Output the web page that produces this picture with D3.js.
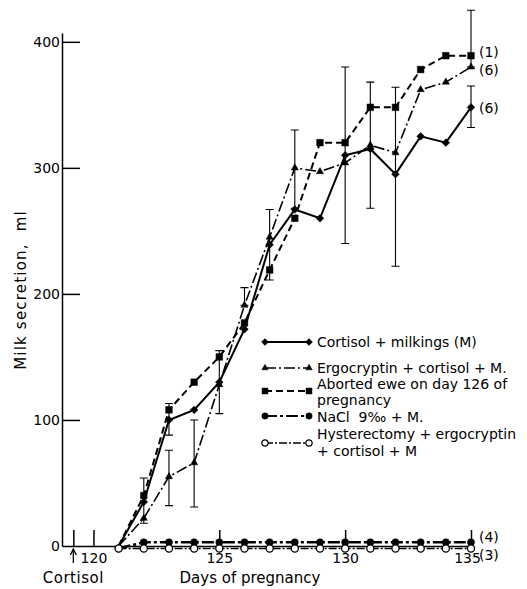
<!DOCTYPE html>
<html>
<head>
<meta charset="utf-8">
<script src="https://cdn.jsdelivr.net/npm/d3@7"></script>
<style>
  body { margin: 0; background: #fff; }
  svg text { font-family: 'DejaVu Sans', sans-serif; fill: #000; }
</style>
</head>
<body>
<svg id="chart" width="527" height="589"></svg>
<script>
// days of pregnancy, one reading per day
const days = [121, 122, 123, 124, 125, 126, 127, 128, 129, 130, 131, 132, 133, 134, 135]

// milk secretion, ml
const cortisolM   = [0, 35, 100, 108, 130, 172, 239, 267, 260, 310, 315, 295, 325, 320, 348]
const ergoCortM   = [0, 22, 55, 66, 128, 191, 245, 300, 297, 304, 318, 312, 362, 368, 380]
const abortedEwe  = [0, 40, 108, 130, 150, 177, 219, 260, 320, 320, 348, 348, 378, 389, 389]
const naclM       = [-2, 3, 3, 3, 3, 3, 3, 3, 3, 3, 3, 3, 3, 3, 3]
const hysterErgo  = [-2, -2, -2, -2, -2, -2, -2, -2, -2, -2, -2, -2, -2, -2, -2]

// error bars [day, low, high]
const cortisolErr = [[123, 88, 113], [125, 105, 155], [130, 240, 380], [131, 268, 368], [132, 222, 364], [135, 332, 365]]
const ergoErr     = [[122, 18, 54], [123, 32, 76], [124, 31, 100], [126, 191, 205], [127, 211, 267], [128, 268, 330], [135, 380, 425]]

const groupSizes = ['(6)', '(6)', '(1)', '(4)', '(3)']
const xTicks = [120, 125, 130, 135]
const yTicks = [0, 100, 200, 300, 400]
const cortisolDay = 119.2

const legendLabels = [
    ['Cortisol + milkings (M)'],
    ['Ergocryptin + cortisol + M.'],
    ['Aborted ewe on day 126 of', 'pregnancy'],
    ['NaCl  9\u2030 + M.'],
    ['Hysterectomy + ergocryptin', '+ cortisol + M']
]

const diamond = { draw(ctx, size) { const r = Math.sqrt(size) / 2 * 1.25
    ctx.moveTo(0, -r); ctx.lineTo(r, 0); ctx.lineTo(0, r); ctx.lineTo(-r, 0); ctx.closePath() } }

const series = [
    { values: cortisolM,  err: cortisolErr, symbol: diamond,          size: 38, dash: null,          width: 2,   fill: '#000' },
    { values: ergoCortM,  err: ergoErr,     symbol: d3.symbolTriangle, size: 22, dash: '11,3,2,3',   width: 1.6, fill: '#000' },
    { values: abortedEwe, err: [],          symbol: d3.symbolSquare,   size: 44, dash: '7,4',        width: 2,   fill: '#000' },
    { values: naclM,      err: [],          symbol: d3.symbolCircle,   size: 40, dash: '12,3,3,3',   width: 2.6, fill: '#000' },
    { values: hysterErgo, err: [],          symbol: d3.symbolCircle,   size: 40, dash: '8,2,2,2',    width: 1.4, fill: '#fff' }
]
const labelNudge = [1, 3, -4, -5, 6]

const svg = d3.select('#chart')

const x = d3.scaleLinear().domain([118.75, 135]).range([62, 471])
const y = d3.scaleLinear().domain([0, 407]).range([546, 33])

// axes
const yAxis = svg.append('g')
    .attr('transform', `translate(${x(118.75)},0)`)
    .call(d3.axisLeft(y).tickValues(yTicks).tickSize(-18).tickSizeOuter(0).tickPadding(2))
yAxis.selectAll('text').style('font-size', '14px')

const xAxis = svg.append('g')
    .attr('transform', `translate(0,${y(0)})`)
    .call(d3.axisBottom(x).tickValues([cortisolDay, ...xTicks]).tickSize(-16).tickSizeOuter(0).tickPadding(7)
        .tickFormat((d) => d === cortisolDay ? '' : d))
xAxis.selectAll('text').style('font-size', '14px').attr('dx', (d) => d === 135 ? '-4' : null)

svg.selectAll('.domain, .tick line').attr('stroke', '#000').attr('stroke-width', 1.5)
yAxis.select('.tick line').remove()

// cortisol arrow
svg.append('path')
    .attr('d', `M${x(cortisolDay)},${y(0) + 17} V${y(0) + 4} M${x(cortisolDay) - 3},${y(0) + 9} L${x(cortisolDay)},${y(0) + 3} L${x(cortisolDay) + 3},${y(0) + 9}`)
    .attr('fill', 'none').attr('stroke', '#000').attr('stroke-width', 1.3)

svg.append('text')
    .attr('x', x(cortisolDay)).attr('y', 583)
    .attr('text-anchor', 'middle')
    .style('font-size', '15px').style('letter-spacing', '0.5px')
    .text('Cortisol')

svg.append('text')
    .attr('x', 250).attr('y', 583)
    .attr('text-anchor', 'middle')
    .style('font-size', '15px')
    .text('Days of pregnancy')

svg.append('text')
    .attr('transform', 'translate(26,290) rotate(-90)')
    .attr('text-anchor', 'middle')
    .style('font-size', '15px').style('letter-spacing', '1.2px').style('white-space', 'pre')
    .text('Milk secretion,  ml')

// error bars
const plot = svg.append('g')
series.forEach((s) => {
    s.err.forEach(([d, lo, hi]) => {
        const cx = x(d)
        plot.append('path')
            .attr('d', `M${cx},${y(lo)} V${y(hi)} M${cx - 4},${y(lo)} H${cx + 4} M${cx - 4},${y(hi)} H${cx + 4}`)
            .attr('stroke', '#000').attr('stroke-width', 1.1).attr('fill', 'none')
    })
})

// lines and markers
const line = d3.line().x((d) => x(d[0])).y((d) => y(d[1]))

series.forEach((s, i) => {
    const pts = days.map((d, j) => [d, s.values[j]])
    plot.append('path')
        .datum(pts)
        .attr('d', line)
        .attr('fill', 'none')
        .attr('stroke', '#000')
        .attr('stroke-width', s.width)
        .attr('stroke-dasharray', s.dash)

    plot.selectAll(null)
        .data(pts.filter((p) => p[1] !== 0))
        .enter().append('path')
        .attr('transform', (p) => `translate(${x(p[0])},${y(p[1])})`)
        .attr('d', d3.symbol(s.symbol, s.size))
        .attr('fill', s.fill)
        .attr('stroke', '#000')
        .attr('stroke-width', s.fill === '#fff' ? 1.3 : 0.5)

    plot.append('text')
        .attr('x', x(135) + 8)
        .attr('y', y(s.values[s.values.length - 1]) + labelNudge[i])
        .attr('dy', '0.36em')
        .style('font-size', '14px')
        .text(groupSizes[i])
})

// legend
const legendRows = [342, 368, 391, 416, 443]
const legendTextY = [[342], [368], [384, 400], [417], [434, 451]]
const legend = svg.append('g')
series.forEach((s, i) => {
    const ly = legendRows[i]
    legend.append('line')
        .attr('x1', 265).attr('x2', 309).attr('y1', ly).attr('y2', ly)
        .attr('stroke', '#000').attr('stroke-width', Math.min(s.width, 1.8))
        .attr('stroke-dasharray', s.dash)
    ;[265, 309].forEach((lx) => {
        legend.append('path')
            .attr('transform', `translate(${lx},${ly})`)
            .attr('d', d3.symbol(s.symbol, s.size * 0.8))
            .attr('fill', s.fill).attr('stroke', '#000')
            .attr('stroke-width', s.fill === '#fff' ? 1.2 : 0.5)
    })
    legendLabels[i].forEach((t, k) => {
        legend.append('text')
            .attr('x', 317).attr('y', legendTextY[i][k])
            .attr('dy', '0.36em')
            .style('font-size', '14px').style('white-space', 'pre')
            .text(t)
    })
})
</script>
</body>
</html>
